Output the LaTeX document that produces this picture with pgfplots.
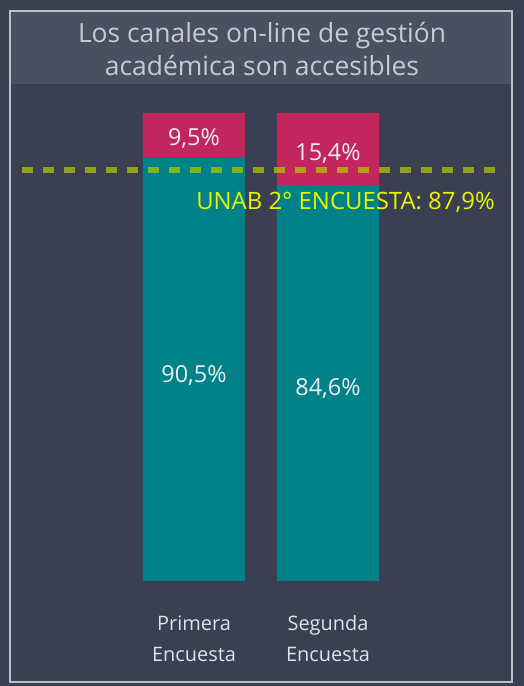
\documentclass[border=0pt]{standalone}
\usepackage{pgfplots}
\pgfplotsset{compat=1.18}
\usepackage{fontspec}
\setmainfont{Open Sans}
\definecolor{bgc}{RGB}{58,63,82}
\definecolor{titlebg}{RGB}{74,80,96}
\definecolor{framec}{RGB}{190,192,198}
\definecolor{teal1}{RGB}{0,130,136}
\definecolor{crim}{RGB}{193,39,93}
\definecolor{titletxt}{RGB}{200,202,206}
\definecolor{valtxt}{RGB}{238,238,245}
\definecolor{cattxt}{RGB}{222,226,236}
\definecolor{yel}{RGB}{232,245,0}
\definecolor{dashc}{RGB}{180,200,0}
\begin{document}
\begin{tikzpicture}[x=1bp,y=1bp]
\useasboundingbox (0,0) rectangle (524,686);
\fill[bgc] (0,0) rectangle (524,686);
\fill[titlebg] (11,686-84) rectangle (511,686-11);
\draw[framec,line width=1.5bp] (10,686-682) rectangle (512,686-11);
\node[align=center,text=titletxt,font=\fontsize{26.5}{33}\selectfont] at (262,686-49) {Los canales on-line de gestión\\académica son accesibles};
\begin{axis}[
  at={(20bp,105bp)}, anchor=south west,
  scale only axis, width=485bp, height=468bp,
  xmin=-1.2985, xmax=2.321, ymin=0, ymax=100,
  ybar stacked, bar width=102bp,
  axis line style={draw=none},
  major tick length=0pt,
  ytick=\empty,
  xtick={0,1},
  xticklabels={Primera\\Encuesta, Segunda\\Encuesta},
  xticklabel style={align=center, text=cattxt, font=\fontsize{20}{31}\selectfont, yshift=-31bp},
  clip=false,
]
\addplot[fill=teal1, draw=none] coordinates {(0,90.5) (1,84.6)};
\addplot[fill=crim, draw=none] coordinates {(0,9.5) (1,15.4)};
\end{axis}
\begin{axis}[
  at={(20bp,105bp)}, anchor=south west,
  scale only axis, width=485bp, height=468bp,
  xmin=-1.2985, xmax=2.321, ymin=0, ymax=100,
  hide axis,
  clip=false,
]
\addplot[dashc, opacity=0.72, line width=6bp, dash pattern=on 11bp off 10bp, dash phase=-2bp] coordinates {(-1.2985,87.9) (2.321,87.9)};
\node[text=valtxt,font=\fontsize{23.5}{26}\selectfont] at (axis cs:0,44.0) {90,5\%};
\node[text=valtxt,font=\fontsize{23.5}{26}\selectfont] at (axis cs:1,41.1) {84,6\%};
\node[text=valtxt,font=\fontsize{23.5}{26}\selectfont] at (axis cs:0,94.6) {9,5\%};
\node[text=valtxt,font=\fontsize{23.5}{26}\selectfont] at (axis cs:1,91.3) {15,4\%};
\node[text=yel,anchor=east,inner sep=0pt,font=\fontsize{24}{28}\selectfont] at (axis cs:2.246,80.8) {UNAB 2° ENCUESTA: 87,9\%};
\end{axis}
\end{tikzpicture}
\end{document}
